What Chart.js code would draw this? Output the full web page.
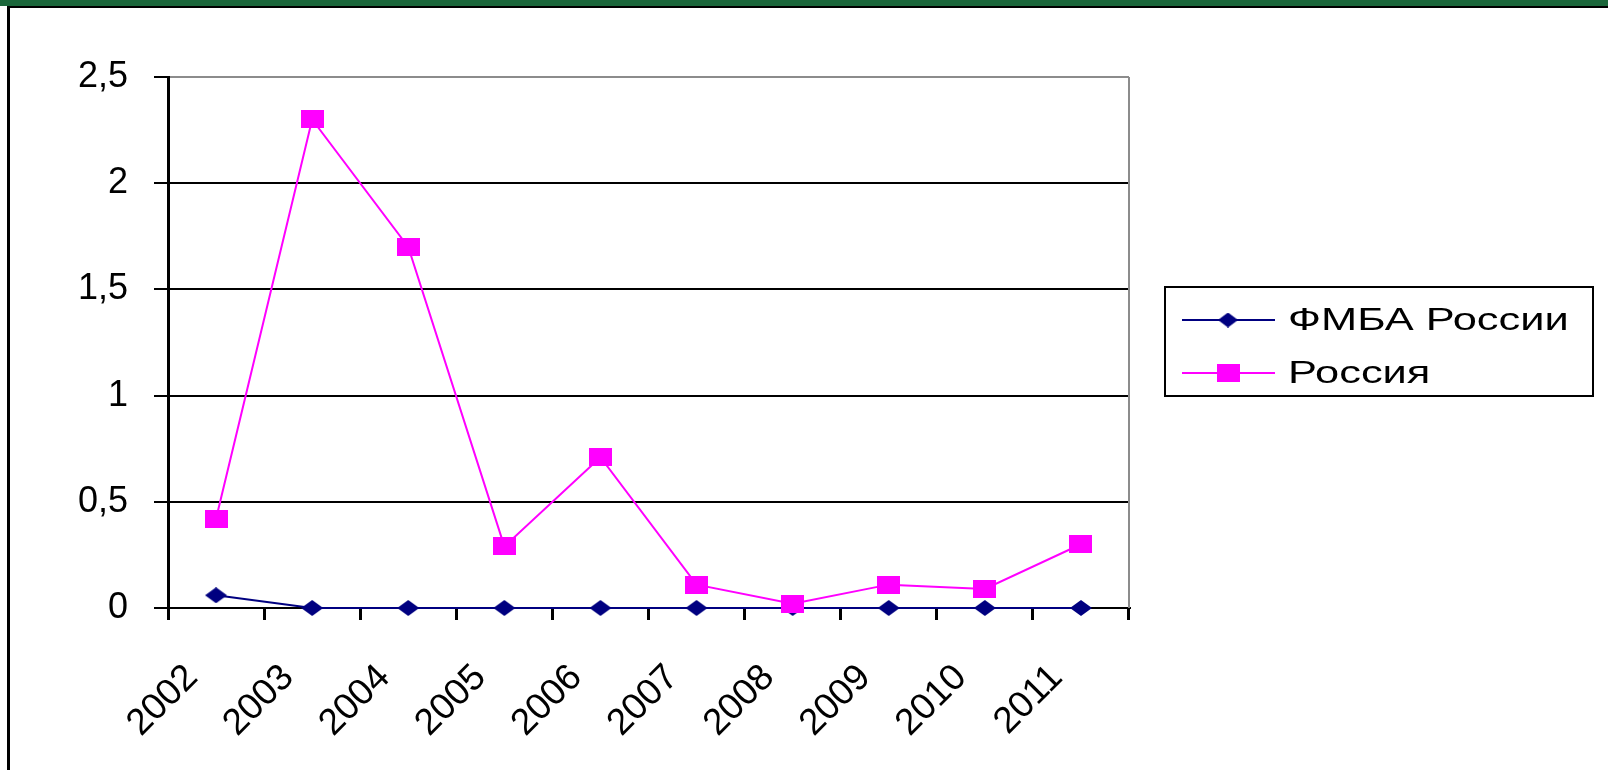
<!DOCTYPE html>
<html>
<head>
<meta charset="utf-8">
<script src="https://cdn.jsdelivr.net/npm/chart.js@4.4.1/dist/chart.umd.min.js"></script>
<style>
  html, body { margin: 0; padding: 0; background: #fff; }
  body { width: 1608px; height: 770px; position: relative; overflow: hidden; }
  #c { position: absolute; left: 0; top: 0; }
  #topBand { position: absolute; left: 0; top: 0; width: 1608px; height: 6px; background: #1b673b; }
  #topLine { position: absolute; left: 7px; top: 6px; width: 1601px; height: 2px; background: #000; }
  #leftLine { position: absolute; left: 7px; top: 6px; width: 3px; height: 764px; background: #000; }
</style>
</head>
<body>
<canvas id="c" width="1608" height="770"></canvas>
<div id="topBand"></div>
<div id="topLine"></div>
<div id="leftLine"></div>
<script>
// ---- data ----
const categories = ['2002', '2003', '2004', '2005', '2006', '2007', '2008', '2009', '2010', '2011'];
const seriesNames = ['ФМБА России', 'Россия'];
const fmbaValues = [0.06, 0, 0, 0, 0, 0, 0, 0, 0, 0];
const russiaValues = [0.42, 2.30, 1.70, 0.29, 0.71, 0.11, 0.02, 0.11, 0.09, 0.30];
const yTickLabels = ['0', '0,5', '1', '1,5', '2', '2,5'];

// ---- marker images ----
function makeDiamond(w, h, color) {
  const cv = document.createElement('canvas');
  cv.width = w; cv.height = h;
  const g = cv.getContext('2d');
  g.fillStyle = color;
  g.beginPath();
  g.moveTo(w / 2, 0); g.lineTo(w, h / 2); g.lineTo(w / 2, h); g.lineTo(0, h / 2);
  g.closePath(); g.fill();
  return cv;
}
function makeRect(w, h, color) {
  const cv = document.createElement('canvas');
  cv.width = w; cv.height = h;
  const g = cv.getContext('2d');
  g.fillStyle = color;
  g.fillRect(0, 0, w, h);
  return cv;
}
const NAVY = '#000080';
const MAGENTA = '#ff00ff';
const diamondImg = makeDiamond(22, 16, NAVY);
const squareImg = makeRect(23, 18, MAGENTA);
const diamondLeg = makeDiamond(20, 15, NAVY);
const squareLeg = makeRect(23, 18, MAGENTA);

const FONT = "'Liberation Sans', Arial, sans-serif";

// plot frame (gray right border) + legend box
const framePlugin = {
  id: 'frame',
  beforeDatasetsDraw(chart) {
    const ca = chart.chartArea, ctx = chart.ctx;
    ctx.save();
    ctx.strokeStyle = '#8c8c8c';
    ctx.lineWidth = 2;
    ctx.beginPath();
    ctx.moveTo(ca.right, ca.top);
    ctx.lineTo(ca.right, ca.bottom);
    ctx.stroke();
    ctx.restore();
  },
  afterDraw(chart) {
    const ca = chart.chartArea, ctx = chart.ctx;
    const boxL = ca.right + 36, boxT = ca.top + 210, boxW = 428, boxH = 109;
    ctx.save();
    ctx.strokeStyle = '#000';
    ctx.lineWidth = 2;
    ctx.strokeRect(boxL, boxT, boxW, boxH);
    const imgs = [diamondLeg, squareLeg];
    chart.data.datasets.forEach((ds, i) => {
      const y = boxT + 33 + i * 53;
      ctx.strokeStyle = ds.borderColor;
      ctx.lineWidth = 2;
      ctx.beginPath();
      ctx.moveTo(boxL + 17, y);
      ctx.lineTo(boxL + 110, y);
      ctx.stroke();
      const im = imgs[i];
      ctx.drawImage(im, boxL + 63 - im.width / 2, y - im.height / 2);
      ctx.save();
      ctx.translate(boxL + 123, y);
      ctx.scale(1.4, 1);
      ctx.fillStyle = '#000';
      ctx.font = '31px ' + FONT;
      ctx.textBaseline = 'middle';
      ctx.textAlign = 'left';
      ctx.fillText(ds.label, 0, 1);
      ctx.restore();
    });
    ctx.restore();
  }
};

new Chart(document.getElementById('c'), {
  type: 'line',
  data: {
    labels: categories,
    datasets: [
      {
        label: seriesNames[0],
        data: fmbaValues,
        borderColor: NAVY,
        backgroundColor: NAVY,
        borderWidth: 2,
        pointStyle: diamondImg,
        pointRadius: 8,
        tension: 0,
        clip: false,
        order: 1
      },
      {
        label: seriesNames[1],
        data: russiaValues,
        borderColor: MAGENTA,
        backgroundColor: MAGENTA,
        borderWidth: 2,
        pointStyle: squareImg,
        pointRadius: 8,
        tension: 0,
        clip: false,
        order: 0
      }
    ]
  },
  options: {
    responsive: false,
    animation: false,
    devicePixelRatio: 1,
    layout: { padding: { left: 0, top: 77, right: 479, bottom: 0 } },
    plugins: {
      legend: { display: false },
      tooltip: { enabled: false }
    },
    scales: {
      x: {
        type: 'category',
        offset: true,
        grid: {
          offset: true,
          drawOnChartArea: false,
          drawTicks: true,
          tickLength: 12,
          color: '#000',
          lineWidth: 3
        },
        border: { display: true, color: '#000', width: 2 },
        ticks: {
          autoSkip: false,
          maxRotation: 45,
          minRotation: 45,
          padding: 36,
          labelOffset: -24,
          color: '#000',
          font: { family: FONT, size: 37 }
        },
        afterFit(scale) {
          scale.height = 162;
          scale.paddingLeft = 0;
          scale.paddingRight = 0;
        }
      },
      y: {
        min: 0,
        max: 2.5,
        grid: {
          color: (c) => (c.tick && c.tick.value === 2.5) ? '#8c8c8c' : '#000',
          tickColor: '#000',
          lineWidth: 2,
          drawTicks: true,
          tickLength: 14
        },
        border: { display: true, color: '#000', width: 3 },
        ticks: {
          stepSize: 0.5,
          padding: 26,
          color: '#000',
          font: { family: FONT, size: 36 },
          callback: (v) => yTickLabels[Math.round(v / 0.5)]
        },
        afterFit(scale) {
          scale.width = 168;
          scale.paddingTop = 0;
          scale.paddingBottom = 0;
        }
      }
    }
  },
  plugins: [framePlugin]
});
</script>
</body>
</html>
